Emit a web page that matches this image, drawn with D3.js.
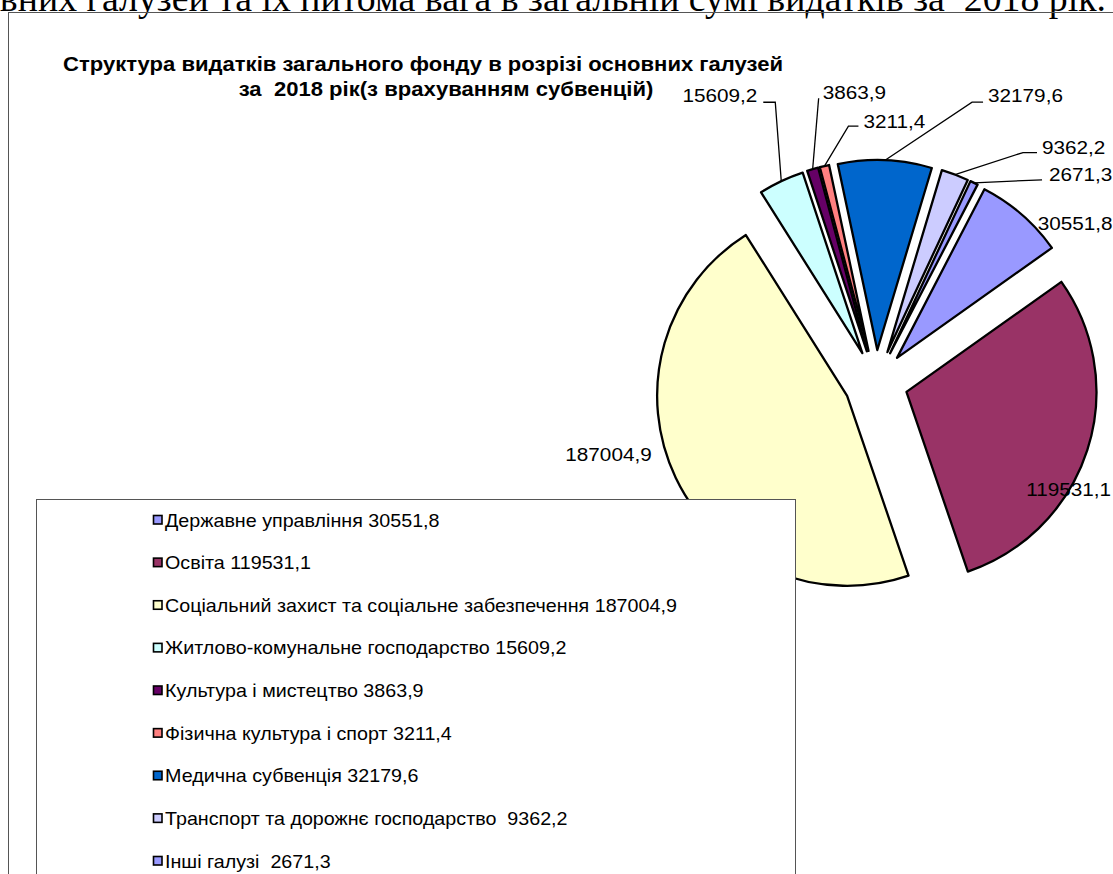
<!DOCTYPE html>
<html>
<head>
<meta charset="utf-8">
<script src="https://cdn.jsdelivr.net/npm/d3@7"></script>
<style>
  body { margin: 0; background: #fff; }
  svg { display: block; }
  text { white-space: pre; }
</style>
</head>
<body>
<div id="chart"></div>
<script>
var width = 1113;
var height = 874;

// дані
var categories = ["Державне управління", "Освіта", "Соціальний захист та соціальне забезпечення",
                  "Житлово-комунальне господарство", "Культура і мистецтво", "Фізична культура і спорт",
                  "Медична субвенція", "Транспорт та дорожнє господарство ", "Інші галузі "];
var values = [30551.8, 119531.1, 187004.9, 15609.2, 3863.9, 3211.4, 32179.6, 9362.2, 2671.3];
var valueLabels = ["30551,8", "119531,1", "187004,9", "15609,2", "3863,9", "3211,4", "32179,6", "9362,2", "2671,3"];
var colors = ["#9999FF", "#993366", "#FFFFCC", "#CCFFFF", "#660066", "#FF8080", "#0066CC", "#CCCCFF", "#9999FF"];

var titleLines = ["Структура видатків загального фонду в розрізі основних галузей",
                  "за  2018 рік(з врахуванням субвенцій)"];
var pageHeading = "основних галузей та їх питома вага в загальній сумі видатків за  2018 рік.";

// розміщення підписів відносно середини зовнішньої дуги
var labelLayout = [
  {pts: [], tx: 16, ty: 9, anchor: "start"},
  {pts: [], tx: -61, ty: 39, anchor: "start"},
  {pts: [], tx: -24, ty: -23, anchor: "end"},
  {pts: [[-6, -79], [-18, -79]], tx: -24, ty: -86, anchor: "end"},
  {pts: [[6, -71]], tx: 10, ty: -77, anchor: "start"},
  {pts: [[24, -40], [34, -40]], tx: 39, ty: -45, anchor: "start"},
  {pts: [[87, -58], [98, -58]], tx: 103, ty: -65, anchor: "start"},
  {pts: [[68, -22], [82, -22]], tx: 87, ty: -27, anchor: "start"},
  {pts: [[68, -3]], tx: 75, ty: -8, anchor: "start"}
];

var cx = 876, cy = 382, radius = 190, explode = 32;
var sx = 1.12;

var svg = d3.select("#chart").append("svg")
            .attr("width", width)
            .attr("height", height);

function addText(g, x, y, str, size, anchor, weight, family) {
  return g.append("text")
          .attr("transform", "translate(" + x + "," + y + ") scale(" + sx + ",1)")
          .attr("text-anchor", anchor || "start")
          .attr("font-family", family || "'Liberation Sans', Arial, sans-serif")
          .attr("font-size", size)
          .attr("font-weight", weight || "normal")
          .attr("fill", "#000")
          .text(str);
}

// заголовок сторінки (обрізаний зверху)
svg.append("text")
   .attr("x", 1106)
   .attr("y", 11)
   .attr("text-anchor", "end")
   .attr("font-family", "'Liberation Serif', 'Times New Roman', serif")
   .attr("font-size", 37.8)
   .text(pageHeading);

// рамка діаграми
svg.append("rect")
   .attr("x", 8.5).attr("y", 12.5)
   .attr("width", 1200).attr("height", 1000)
   .attr("fill", "none")
   .attr("stroke", "#555")
   .attr("stroke-width", 1);

// заголовок діаграми
addText(svg, 423, 71, titleLines[0], 19.7, "middle", "bold");
addText(svg, 446, 96, titleLines[1], 19.7, "middle", "bold");

// кругова діаграма
var a0 = 27.4 * Math.PI / 180;
var pie = d3.pie().sort(null).startAngle(a0).endAngle(a0 + 2 * Math.PI);
var arcs = pie(values);
var arc = d3.arc().innerRadius(0).outerRadius(radius);

var gPie = svg.append("g").attr("transform", "translate(" + cx + "," + cy + ")");

gPie.selectAll("path")
    .data(arcs)
    .enter().append("path")
    .attr("transform", function(d) {
      var m = (d.startAngle + d.endAngle) / 2;
      return "translate(" + (explode * Math.sin(m)) + "," + (-explode * Math.cos(m)) + ")";
    })
    .attr("d", arc)
    .attr("fill", function(d, i) { return colors[i]; })
    .attr("stroke", "#000")
    .attr("stroke-width", 2.3)
    .attr("stroke-linejoin", "round");

// підписи значень
var gLab = svg.append("g");
arcs.forEach(function(d, i) {
  var m = (d.startAngle + d.endAngle) / 2;
  var ox = cx + (explode + radius) * Math.sin(m);
  var oy = cy - (explode + radius) * Math.cos(m);
  var L = labelLayout[i];
  if (L.pts.length) {
    var pts = [[ox, oy]].concat(L.pts.map(function(p) { return [ox + p[0], oy + p[1]]; }));
    gLab.append("path")
        .attr("d", d3.line()(pts))
        .attr("fill", "none")
        .attr("stroke", "#000")
        .attr("stroke-width", 1.3);
  }
  addText(gLab, ox + L.tx, oy + L.ty + 6.5, valueLabels[i], 18.5, L.anchor);
});

// легенда
svg.append("rect")
   .attr("x", 36.5).attr("y", 499.5)
   .attr("width", 759).attr("height", 500)
   .attr("fill", "#fff")
   .attr("stroke", "#555")
   .attr("stroke-width", 1);

var legendY = d3.scaleLinear().domain([0, 8]).range([520, 861]);
var gLeg = svg.append("g");
categories.forEach(function(c, i) {
  var y = legendY(i);
  gLeg.append("rect")
      .attr("x", 153.5).attr("y", y - 4.5)
      .attr("width", 8.5).attr("height", 8.5)
      .attr("fill", colors[i])
      .attr("stroke", "#000")
      .attr("stroke-width", 1.6);
  addText(gLeg, 165, y + 6.5, c + " " + valueLabels[i], 17.6, "start");
});
</script>
</body>
</html>
